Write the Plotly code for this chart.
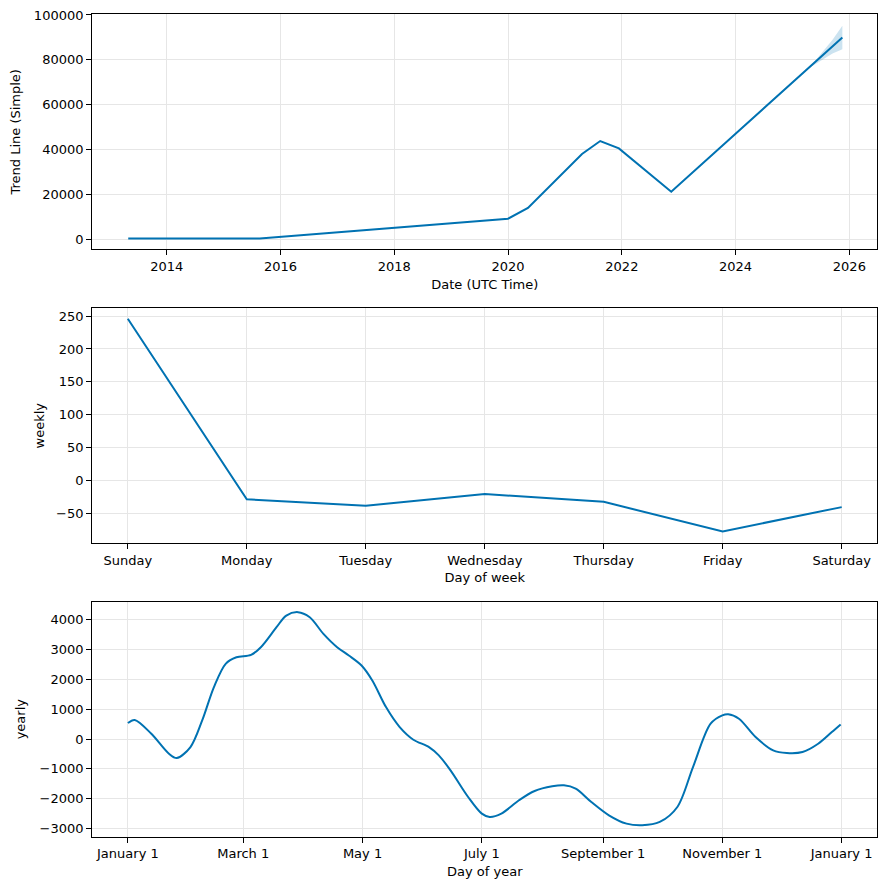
import plotly.graph_objects as go

# ---- Trend data ----
trend_dates = ["2013-04-28", "2015-08-21", "2020-01-01", "2020-05-08", "2021-04-20",
               "2021-08-15", "2021-12-13", "2022-11-14", "2025-11-17"]
trend_values = [300, 400, 9200, 14000, 38000, 43800, 40500, 21200, 90000]

band_dates = ["2025-04-20", "2025-07-10", "2025-09-15", "2025-11-17"]
band_lower = [76500, 80000, 82800, 84700]
band_upper = [76500, 83500, 89000, 95200]

# ---- Weekly data ----
weekdays = ["Sunday", "Monday", "Tuesday", "Wednesday", "Thursday", "Friday", "Saturday"]
weekly_values = [246, -29, -39, -21, -33, -78, -41]

# ---- Yearly data ----
year_days = [0, 3.5, 12, 21, 25, 32, 38, 44, 50, 55.5, 63, 68, 76, 81, 87, 93, 100, 107, 113,
             119.5, 125, 132, 139, 146, 154, 159, 165, 174, 181, 185, 191, 200, 208, 217, 223,
             229, 237, 246, 255, 263, 272, 281, 289, 298, 304, 307, 312.5, 321, 330, 337, 345,
             353, 360, 364.5]
yearly_values = [535, 640, 178, -490, -635, -268, 624, 1740, 2520, 2740, 2820, 3077, 3746, 4136,
                 4250, 4080, 3523, 3077, 2800, 2464, 1962, 1070, 401, -22, -268, -546, -1048,
                 -1940, -2497, -2609, -2497, -2050, -1740, -1583, -1550, -1661, -2107, -2553,
                 -2832, -2887, -2776, -2274, -937, 513, 792, 830, 680, 67, -379, -468, -435, -156,
                 234, 490]
month_ticks = [0, 59, 120, 181, 243, 304, 365]
month_labels = ["January 1", "March 1", "May 1", "July 1", "September 1", "November 1", "January 1"]

LINE = "#0072B2"
FILL = "rgba(0,114,178,0.2)"
GRID = "#e6e6e6"
FONT = dict(family="DejaVu Sans", size=13, color="black")

fig = go.Figure()

fig.add_trace(go.Scatter(x=band_dates, y=band_upper, mode="lines", line=dict(width=0, color=FILL),
                         showlegend=False, xaxis="x", yaxis="y", hoverinfo="skip"))
fig.add_trace(go.Scatter(x=band_dates, y=band_lower, mode="lines", line=dict(width=0, color=FILL),
                         fill="tonexty", fillcolor=FILL, showlegend=False, xaxis="x", yaxis="y",
                         hoverinfo="skip"))
fig.add_trace(go.Scatter(x=trend_dates, y=trend_values, mode="lines", line=dict(color=LINE, width=2),
                         showlegend=False, xaxis="x", yaxis="y"))

fig.add_trace(go.Scatter(x=list(range(7)), y=weekly_values, mode="lines", line=dict(color=LINE, width=2),
                         showlegend=False, xaxis="x2", yaxis="y2"))

fig.add_trace(go.Scatter(x=year_days, y=yearly_values, mode="lines",
                         line=dict(color=LINE, width=2, shape="spline", smoothing=0.9),
                         showlegend=False, xaxis="x3", yaxis="y3"))

W, H = 886, 889
xdom = [92.1 / W, 877.4 / W]
def ydom(top, bot):
    return [1 - bot / H, 1 - top / H]

common = dict(showline=True, linecolor="black", linewidth=1, mirror=True, ticks="outside",
              ticklen=5, tickwidth=1, tickcolor="black", showgrid=True, gridcolor=GRID, gridwidth=1,
              zeroline=False, tickfont=FONT, title_font=FONT, automargin=False)

fig.update_layout(
    width=W, height=H, margin=dict(l=0, r=0, t=0, b=0, autoexpand=False),
    plot_bgcolor="white", paper_bgcolor="white", font=FONT,
    xaxis=dict(domain=xdom, anchor="y", type="date", range=["2012-09-08", "2026-06-30"],
               dtick="M24", tick0="2014-01-01", tickformat="%Y",
               title=dict(text="Date (UTC Time)", standoff=6), **common),
    yaxis=dict(domain=ydom(14.3, 249.3), anchor="x", range=[-4460, 100300], dtick=20000,
               tickformat="d", title=dict(text="Trend Line (Simple)", standoff=10), **common),
    xaxis2=dict(domain=xdom, anchor="y2", range=[-0.3, 6.3], tickvals=list(range(7)),
                ticktext=weekdays, title=dict(text="Day of week", standoff=6), **common),
    yaxis2=dict(domain=ydom(308.3, 543), anchor="x2", range=[-95.7, 262], dtick=50,
                title=dict(text="weekly", standoff=8), **common),
    xaxis3=dict(domain=xdom, anchor="y3", range=[-18.3, 383.3], tickvals=month_ticks,
                ticktext=month_labels, title=dict(text="Day of year", standoff=6), **common),
    yaxis3=dict(domain=ydom(601.7, 836.7), anchor="x3", range=[-3270, 4600], dtick=1000,
                tickformat="d", title=dict(text="yearly", standoff=10), **common),
)

fig.write_html("out.html", config={"displayModeBar": False},
               post_script="document.body.style.margin='0';")
